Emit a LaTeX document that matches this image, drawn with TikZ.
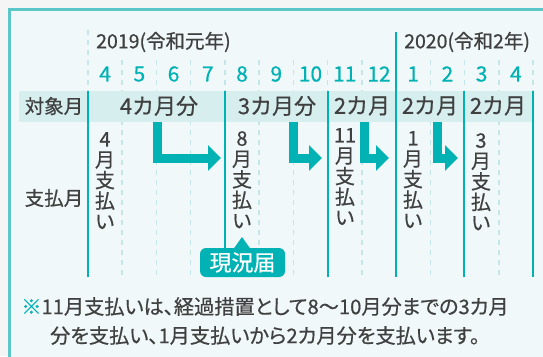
\documentclass[tikz,border=0pt]{standalone}
\usepackage{fontspec}
\setmainfont{Noto Sans CJK JP}[FakeBold=0.6]
\newfontfamily\paltfont{Noto Sans CJK JP}[FakeBold=0.6,RawFeature=+palt]
\usetikzlibrary{arrows.meta}
\definecolor{outerbg}{HTML}{F5F5F5}
\definecolor{boxbg}{HTML}{F0F8F9}
\definecolor{boxborder}{HTML}{5CC6C8}
\definecolor{band}{HTML}{D6EEEE}
\definecolor{tealm}{HTML}{00B2B4}
\definecolor{dashc}{HTML}{C4E6E6}
\definecolor{txt}{HTML}{404040}
\tikzset{
  solidline/.style={tealm, line width=2.6pt},
  dashline/.style={dashc, line width=1.6pt, dash pattern=on 5pt off 5pt},
  monthnum/.style={tealm, font=\fontsize{21}{21}\selectfont, inner sep=0pt},
  yearlbl/.style={txt, font=\paltfont\fontsize{19.5}{19.5}\selectfont, inner sep=0pt, anchor=west},
  rowlbl/.style={txt, font=\fontsize{19.5}{19.5}\selectfont, inner sep=0pt},
  bandlbl/.style={txt, font=\fontsize{22}{22}\selectfont, inner sep=0pt},
  paytext/.style={txt, font=\fontsize{20}{20.6}\selectfont, inner sep=0pt, anchor=north, align=center},
  bigarrow/.style={tealm, line width=9pt, line join=miter, -{Triangle[width=25pt,length=13pt]}},
  callout/.style={fill=tealm, rounded corners=6pt, text=white, font=\fontsize{22}{22}\selectfont, minimum width=85pt, minimum height=29pt, inner sep=0pt},
  footnote/.style={txt, font=\paltfont\fontsize{20.2}{29}\selectfont, inner sep=0pt, align=center}
}
\begin{document}
\begin{tikzpicture}[x=1pt,y=-1pt]
\useasboundingbox (0,0) rectangle (543,356);
\fill[outerbg] (0,0) rectangle (543,356);
\fill[boxbg] (10,10) rectangle (560,370);
\draw[boxborder, line width=2.8pt] (9.6,370) -- (9.6,9.6) -- (560,9.6);
% dashed grid lines
\draw[dashline] (88,30) -- (88,91);
\foreach \k in {1,...,13}{
  \pgfmathsetmacro{\xx}{88+34.23*\k}
  \draw[dashline] (\xx,60) -- (\xx,277);
}
% band
\fill[band] (19,91) rectangle (533,122);
% solid lines
\draw[solidline] (88,91) -- (88,277);
\draw[solidline] (225,91) -- (225,277);
\draw[solidline] (328,91) -- (328,277);
\draw[solidline] (396,32) -- (396,277);
\draw[solidline] (464,91) -- (464,277);
\draw[solidline] (533,91) -- (533,277);
% year labels
\node[yearlbl] (y2019) at (96,42) {2019(令和元年)};
\node[yearlbl] (y2020) at (404,42) {2020(令和2年)};
% month numbers
\foreach \m [count=\i from 0] in {4,5,6,7,8,9,10,11,12,1,2,3,4}{
  \pgfmathsetmacro{\xx}{88+34.23*(\i+0.5)}
  \node[monthnum] (m\i) at (\xx,74) {\m};
}
% row labels
\node[rowlbl] (rowA) at (54,106) {対象月};
\node[rowlbl] (rowB) at (54,198) {支払月};
% band labels
\node[bandlbl] (b1) at (159,106) {4カ月分};
\node[bandlbl] (b2) at (277,106) {3カ月分};
\node[bandlbl] (b3) at (362,106) {2カ月};
\node[bandlbl] (b4) at (430,106) {2カ月};
\node[bandlbl] (b5) at (498,106) {2カ月};
% payment texts
\node[paytext] (p1) at (105,132) {4\\月\\支\\払\\い};
\node[paytext] (p2) at (242,131) {8\\月\\支\\払\\い};
\node[paytext] (p3) at (345,128) {11\\月\\支\\払\\い};
\node[paytext] (p4) at (413,131) {1\\月\\支\\払\\い};
\node[paytext] (p5) at (481,133) {3\\月\\支\\払\\い};
% arrows
\coordinate (a1s) at (157,122); \coordinate (a1e) at (221,158);
\coordinate (a2s) at (293.5,122); \coordinate (a2e) at (322,158);
\coordinate (a3s) at (364,122); \coordinate (a3e) at (389,158);
\coordinate (a4s) at (437,122); \coordinate (a4e) at (458,158);
\draw[bigarrow] (a1s) |- (a1e);
\draw[bigarrow] (a2s) |- (a2e);
\draw[bigarrow] (a3s) |- (a3e);
\draw[bigarrow] (a4s) |- (a4e);
% callout
\fill[tealm] (233.5,249) -- (242,237) -- (250.5,249) -- cycle;
\node[callout] (gen) at (242.5,262.5) {現況届};
% footnote
\node[footnote] (fn) at (265,321) {{\color{tealm}※}11月支払いは、経過措置として8〜10月分までの3カ月\\分を支払い、1月支払いから2カ月分を支払います。};
\end{tikzpicture}
\end{document}
